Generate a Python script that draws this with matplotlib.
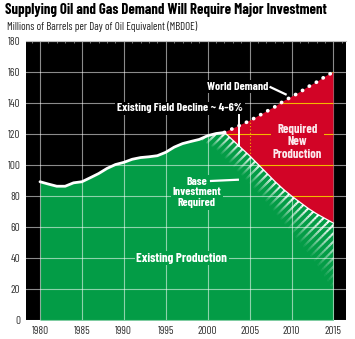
import numpy as np
import matplotlib
matplotlib.use("Agg")
import matplotlib.pyplot as plt
from matplotlib.patches import Polygon
from matplotlib.ticker import MultipleLocator

plt.rcParams['font.family'] = ['Barlow Condensed', 'DejaVu Sans']
plt.rcParams['hatch.linewidth'] = 1.5
plt.rcParams['hatch.color'] = 'white'

# ---- data ----
hist_years = list(range(1980, 2003))
hist_prod = [89.2, 87.7, 86.3, 86.3, 88.5, 89.2, 91.8, 94.5, 97.8, 100.3, 101.7,
             103.7, 104.8, 105.3, 106.0, 108.2, 111.5, 113.8, 115.2, 116.5,
             118.9, 120.3, 121.0]
fut_years = list(range(2002, 2016))
decline = [121.0, 116.0, 111.0, 106.0, 100.5, 95.0, 89.5, 84.5, 80.0, 76.0,
           72.0, 68.5, 65.5, 62.5]
demand = [121.0, 123.5, 126.0, 128.5, 131.5, 134.5, 137.5, 141.0, 144.0, 147.0,
          150.5, 153.5, 157.0, 160.0]
base_years = [1999, 2001, 2003, 2005, 2007, 2009, 2011, 2013, 2015]
base_low = [116.5, 110.0, 99.0, 88.0, 76.0, 63.0, 50.0, 36.0, 19.0]

x_ticks = [1980, 1985, 1990, 1995, 2000, 2005, 2010, 2015]
y_ticks = [0, 20, 40, 60, 80, 100, 120, 140, 160, 180]

GREEN = '#039c46'
RED = '#d20426'

fig = plt.figure(figsize=(3.55, 3.39), dpi=100)
ax = fig.add_axes([26/355, 1-320/339, 320/355, 279/339])
ax.set_facecolor('black')
ax.set_xlim(1978.33, 2016.5)
ax.set_ylim(0, 180)

# green existing production (history + decline + base)
all_years = np.array(hist_years + fut_years[1:], dtype=float)
upper = np.array(hist_prod + decline[1:])
ax.fill_between(all_years, 0, upper, color=GREEN, lw=0, zorder=1)

# grid
for x in x_ticks:
    ax.axvline(x, color='white', alpha=0.55, lw=0.8, zorder=2)
for y in y_ticks:
    ax.axhline(y, color='white', alpha=0.55, lw=0.8, zorder=2)

# red required new production
fy = np.array(fut_years, dtype=float)
red_poly = Polygon(np.column_stack([np.r_[fy, fy[::-1]],
                                    np.r_[demand, np.array(decline)[::-1]]]),
                   closed=True, facecolor=RED, edgecolor='none', zorder=3)
ax.add_patch(red_poly)
for y in y_ticks[1:]:
    ln = ax.axhline(y, color='#f5b800', lw=0.8, zorder=4)
    ln.set_clip_path(red_poly)
ln = ax.axvline(2005, color='#f5b800', lw=0.8, ls=(0, (1, 2)), zorder=4)
ln.set_clip_path(red_poly)

# hatched base investment with fade
hx = np.linspace(1999, 2015, 161)
up_h = np.interp(hx, all_years, upper)
lo_h = np.interp(hx, base_years, base_low)
N = 14
for i in range(N):
    t0, t1 = i / N, (i + 1) / N
    c0 = up_h + (lo_h - up_h) * t0
    c1 = up_h + (lo_h - up_h) * t1
    a = (1 - t0) ** 1.1
    p = Polygon(np.column_stack([np.r_[hx, hx[::-1]], np.r_[c0, c1[::-1]]]),
                closed=True, facecolor='none', edgecolor='white', lw=0,
                hatch='////', alpha=a, zorder=3)
    ax.add_patch(p)

# outlines
ax.plot(hist_years, hist_prod, color='white', lw=2.0, solid_capstyle='round', zorder=5)
ax.plot(fut_years, decline, color='white', lw=0.9, zorder=5)
ax.plot(fut_years, demand, color='white', lw=2.7, ls=(0, (0.05, 2.1)),
        dash_capstyle='round', zorder=6)

# annotations
def lbl(x, y, s, size, bg, color='white', ls=1.05):
    ax.text(x, y, s, ha='center', va='center', fontsize=size, fontweight='bold',
            color=color, linespacing=ls, zorder=7,
            bbox=dict(facecolor=bg, edgecolor='none', pad=1.2))

lbl(1996.9, 40, 'Existing Production', 9.3, GREEN)
lbl(1998.7, 82.3, 'Base\nInvestment\nRequired', 8.5, GREEN, ls=1.08)
lbl(2010.7, 115, 'Required\nNew\nProduction', 9, RED, color='#fbe9ec', ls=1.15)
lbl(2003.6, 150.5, 'World Demand', 8.4, 'black')
lbl(1996.7, 136.6, 'Existing Field Decline ~ 4\u20136%', 8.5, 'black')

ax.plot([2000.4, 2003.6], [89.7, 90.5], color='white', lw=1.6, zorder=7)
ax.plot([2007.5, 2009.3], [150.2, 145.6], color='white', lw=1.6, zorder=7)
ax.plot([2003.75, 2003.75], [132.0, 112.5], color='white', lw=1.4, zorder=7)

# axes styling
ax.set_xticks(x_ticks)
ax.set_yticks(y_ticks)
ax.tick_params(axis='both', length=0, labelsize=8, labelcolor='#333333', pad=4)
ax.xaxis.set_minor_locator(MultipleLocator(1))
ax.tick_params(axis='x', which='minor', direction='in', top=True, bottom=False,
               length=1.5, color='#888888', width=0.6)
for s in ax.spines.values():
    s.set_visible(False)
ax.spines['top'].set_visible(True)
ax.spines['top'].set_color('#bbbbbb')
ax.spines['top'].set_linewidth(0.8)

fig.text(5/355, 1-10/339, 'Supplying Oil and Gas Demand Will Require Major Investment',
         ha='left', va='center', fontsize=10.6, fontweight='bold', color='black')
fig.text(7/355, 1-27/339, 'Millions of Barrels per Day of Oil Equivalent (MBDOE)',
         ha='left', va='center', fontsize=7.9, color='#222222')

fig.savefig('out.png', dpi=100, facecolor='white')
